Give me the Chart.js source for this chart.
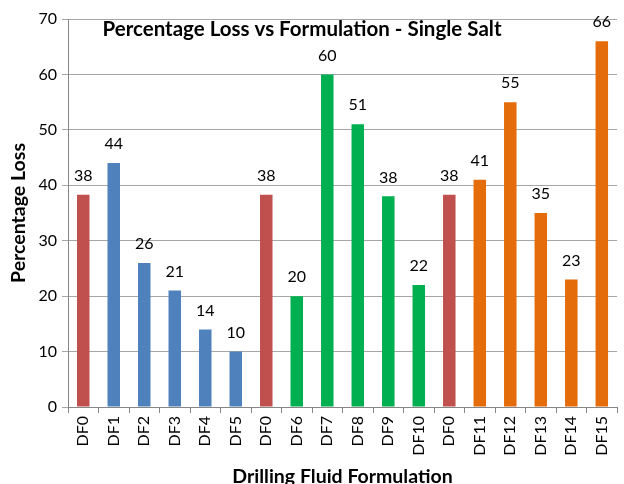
<!DOCTYPE html>
<html>
<head>
    <title>Percentage Loss vs Formulation - Single Salt</title>
    <script src="https://cdn.jsdelivr.net/npm/chart.js"></script>
    <style>
        body { margin: 0; background: #fff; overflow: hidden; }
    </style>
</head>
<body>
    <canvas id="lossChart" width="624" height="484"></canvas>

    <script>
        var labels = ['DF0', 'DF1', 'DF2', 'DF3', 'DF4', 'DF5', 'DF0', 'DF6', 'DF7', 'DF8', 'DF9', 'DF10',
                      'DF0', 'DF11', 'DF12', 'DF13', 'DF14', 'DF15'];
        var lossValues = [38.3, 44, 26, 21, 14, 10, 38.3, 20, 60, 51, 38, 22, 38.3, 41, 55, 35, 23, 66];
        var groups = ['base', 'a', 'a', 'a', 'a', 'a', 'base', 'b', 'b', 'b', 'b', 'b',
                      'base', 'c', 'c', 'c', 'c', 'c'];
        var yTicks = [0, 10, 20, 30, 40, 50, 60, 70];

        var groupColors = { base: '#C0504D', a: '#4F81BD', b: '#00B050', c: '#E46C0A' };
        var fontFamily = 'Lato, "Open Sans", sans-serif';

        // etiquetas encima de cada barra
        var valueLabels = {
            id: 'valueLabels',
            afterDatasetsDraw: function (chart) {
                var ctx = chart.ctx;
                var meta = chart.getDatasetMeta(0);
                ctx.save();
                ctx.fillStyle = '#000';
                ctx.font = '16px ' + fontFamily;
                ctx.textAlign = 'center';
                ctx.textBaseline = 'middle';
                meta.data.forEach(function (bar, i) {
                    ctx.fillText(Math.round(lossValues[i]), bar.x, bar.y - 19);
                });
                ctx.restore();
            }
        };

        // titulo dentro del area del grafico
        var insideTitle = {
            id: 'insideTitle',
            afterDraw: function (chart) {
                var ctx = chart.ctx;
                ctx.save();
                ctx.fillStyle = '#000';
                ctx.font = 'bold 20.5px ' + fontFamily;
                ctx.textAlign = 'center';
                ctx.textBaseline = 'middle';
                ctx.fillText('Percentage Loss vs Formulation - Single Salt', 302, 29);
                ctx.restore();
            }
        };

        var ctx = document.getElementById('lossChart').getContext('2d');
        var chart = new Chart(ctx, {
            type: 'bar',
            data: {
                labels: labels,
                datasets: [{
                    data: lossValues,
                    backgroundColor: groups.map(function (g) { return groupColors[g]; }),
                    barPercentage: 0.41,
                    categoryPercentage: 1.0
                }]
            },
            options: {
                responsive: false,
                animation: false,
                layout: { padding: { top: 19, right: 0, left: 0, bottom: 0 } },
                plugins: {
                    legend: { display: false },
                    tooltip: { enabled: false }
                },
                scales: {
                    x: {
                        grid: {
                            offset: true,
                            drawOnChartArea: false,
                            color: '#868686',
                            tickLength: 6
                        },
                        border: { color: '#868686' },
                        ticks: {
                            color: '#000',
                            font: { family: fontFamily, size: 16 },
                            minRotation: 90,
                            maxRotation: 90,
                            autoSkip: false,
                            padding: 3
                        },
                        title: {
                            display: true,
                            text: 'Drilling Fluid Formulation',
                            color: '#000',
                            font: { family: fontFamily, size: 19.5, weight: 'bold' },
                            padding: { top: 0, bottom: -4 }
                        },
                        afterFit: function (scale) { scale.height = 77; }
                    },
                    y: {
                        min: 0,
                        max: 70,
                        afterBuildTicks: function (scale) {
                            scale.ticks = yTicks.map(function (v) { return { value: v }; });
                        },
                        grid: {
                            color: '#A6A6A6',
                            tickLength: 6
                        },
                        border: { color: '#868686' },
                        ticks: {
                            color: '#000',
                            font: { family: fontFamily, size: 16 },
                            padding: 5
                        },
                        title: {
                            display: true,
                            text: 'Percentage Loss',
                            color: '#000',
                            font: { family: fontFamily, size: 19.5, weight: 'bold' },
                            padding: { top: 7, bottom: 0 }
                        },
                        afterFit: function (scale) { scale.width = 68; }
                    }
                }
            },
            plugins: [valueLabels, insideTitle]
        });
    </script>
</body>
</html>
